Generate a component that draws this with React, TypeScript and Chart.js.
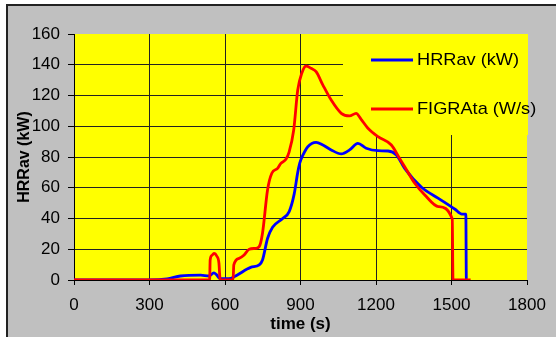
import React, { useEffect, useRef } from "react";
import { Chart, registerables } from "chart.js";

Chart.register(...registerables);

// ---- data ----
const xTicks = [0, 300, 600, 900, 1200, 1500, 1800];
const yTicks = [0, 20, 40, 60, 80, 100, 120, 140, 160];

const hrrLabel = "HRRav (kW)";
const figraLabel = "FIGRAta (W/s)";
const xTitle = "time (s)";
const yTitle = "HRRav (kW)";

const hrrTime = [0, 300, 370, 423, 503, 536, 556, 566, 580, 623, 649, 702, 736, 749, 769, 789, 829, 855, 875, 889, 897, 909, 929, 962, 989, 1022, 1062, 1095, 1128, 1161, 1208, 1248, 1281, 1314, 1381, 1448, 1514, 1541, 1557, 1559, 1562];
const hrrValue = [0, 0, 0.7, 2.6, 3.2, 2.6, 4.6, 3.5, 0.9, 1.1, 3.3, 8.2, 9.8, 13, 27, 34.3, 40, 44.5, 56, 70, 76, 81, 86.7, 89.5, 87.8, 84.6, 82, 84.6, 88.9, 85.7, 84.1, 83.9, 81.3, 72.6, 60.3, 53.1, 46, 42.9, 42.9, 0, 0];

const figraTime = [0, 539, 541, 548, 556, 567, 576, 579, 581, 632, 635, 656, 676, 696, 722, 736, 749, 769, 786, 809, 822, 842, 855, 873, 889, 905, 922, 942, 962, 989, 1022, 1062, 1095, 1121, 1141, 1168, 1208, 1261, 1294, 1314, 1354, 1394, 1448, 1503, 1506, 1576];
const figraValue = [0, 0, 13, 16, 17.3, 15.6, 10.8, 3, 0, 0, 9.8, 14.1, 16.3, 20, 20.6, 21.7, 30.4, 58.5, 69.4, 72.6, 75.9, 78.5, 83.4, 97.6, 123.6, 134.4, 139.2, 137.7, 135.5, 126.8, 117, 108.4, 106.7, 108.4, 104.5, 98.7, 93.2, 87.8, 79, 73.7, 62.9, 55.3, 47.7, 39.7, 0, 0];

const FONT = "'Liberation Sans', Arial, sans-serif";

const framePlugin = {
  id: "frame",
  beforeDraw(chart: any) {
    const { ctx, width, height, chartArea } = chart;
    ctx.save();
    ctx.fillStyle = "#ffffff";
    ctx.fillRect(0, 0, width, height);
    ctx.fillStyle = "#c0c0c0";
    ctx.fillRect(7, 5, width - 7, height - 5);
    ctx.strokeStyle = "#222222";
    ctx.lineWidth = 2;
    ctx.beginPath();
    ctx.moveTo(7, height);
    ctx.lineTo(7, 5);
    ctx.lineTo(width, 5);
    ctx.stroke();
    ctx.fillStyle = "#ffff00";
    ctx.fillRect(chartArea.left, chartArea.top, chartArea.right - chartArea.left, chartArea.bottom - chartArea.top);
    ctx.restore();
  },
};

const legendPlugin = {
  id: "boxLegend",
  beforeDatasetsDraw(chart: any) {
    const { ctx, chartArea } = chart;
    ctx.save();
    ctx.fillStyle = "#ffff00";
    ctx.fillRect(343, chartArea.top, chartArea.right - 343 + 1, 135 - chartArea.top);
    ctx.restore();
  },
  afterDatasetsDraw(chart: any) {
    const { ctx } = chart;
    const items = [
      { text: hrrLabel, color: "#0000ff", y: 60 },
      { text: figraLabel, color: "#ff0000", y: 109 },
    ];
    ctx.save();
    ctx.font = `17px ${FONT}`;
    ctx.textBaseline = "middle";
    ctx.textAlign = "left";
    for (const it of items) {
      ctx.strokeStyle = it.color;
      ctx.lineWidth = 2.8;
      ctx.beginPath();
      ctx.moveTo(371, it.y);
      ctx.lineTo(413, it.y);
      ctx.stroke();
      ctx.fillStyle = "#000000";
      ctx.save();
      ctx.translate(417, it.y + 0.5);
      ctx.scale(1.07, 1);
      ctx.fillText(it.text, 0, 0);
      ctx.restore();
    }
    ctx.restore();
  },
};

export default function App() {
  const ref = useRef<HTMLCanvasElement | null>(null);
  useEffect(() => {
    document.body.style.margin = "0";
    const canvas = ref.current;
    if (!canvas) return;
    const chart = new Chart(canvas, {
      type: "line",
      data: {
        datasets: [
          {
            label: figraLabel,
            data: figraTime.map((t, i) => ({ x: t, y: figraValue[i] })),
            borderColor: "#ff0000",
            borderWidth: 2.8,
            pointRadius: 0,
            cubicInterpolationMode: "monotone",
            fill: false,
          },
          {
            label: hrrLabel,
            data: hrrTime.map((t, i) => ({ x: t, y: hrrValue[i] })),
            borderColor: "#0000ff",
            borderWidth: 2.8,
            pointRadius: 0,
            cubicInterpolationMode: "monotone",
            fill: false,
          },
        ],
      },
      options: {
        responsive: false,
        animation: false,
        events: [],
        layout: { padding: { top: 34, right: 29, left: 0, bottom: 0 } },
        plugins: { legend: { display: false }, tooltip: { enabled: false }, title: { display: false } },
        scales: {
          x: {
            type: "linear",
            min: xTicks[0],
            max: xTicks[xTicks.length - 1],
            afterBuildTicks: (scale: any) => {
              scale.ticks = xTicks.map((v) => ({ value: v }));
            },
            afterFit: (scale: any) => {
              scale.height = 57;
            },
            ticks: {
              color: "#000",
              font: { family: FONT, size: 17 },
              padding: 10,
              maxRotation: 0,
              autoSkip: false,
              callback: (v: any) => String(v),
            },
            grid: {
              color: (c: any) => (c.tick && c.tick.value === 1800 ? "rgba(0,0,0,0)" : "#222"),
              lineWidth: 1,
              tickColor: "#000",
              tickLength: 5,
              drawTicks: true,
            },
            border: { color: "#000", width: 1 },
            title: { display: true, text: xTitle, color: "#000", font: { family: FONT, size: 17, weight: "bold" }, padding: { top: 0, bottom: 2 } },
          },
          y: {
            type: "linear",
            min: yTicks[0],
            max: yTicks[yTicks.length - 1],
            afterBuildTicks: (scale: any) => {
              scale.ticks = yTicks.map((v) => ({ value: v }));
            },
            afterFit: (scale: any) => {
              scale.width = 74;
            },
            ticks: { color: "#000", font: { family: FONT, size: 17 }, padding: 8, callback: (v: any) => String(v) },
            grid: {
              color: (c: any) => (c.tick && c.tick.value === 160 ? "rgba(0,0,0,0)" : "#222"),
              lineWidth: 1,
              tickColor: "#000",
              tickLength: 6,
              drawTicks: true,
            },
            border: { color: "#000", width: 1 },
            title: { display: true, text: yTitle, color: "#000", font: { family: FONT, size: 16, weight: "bold" }, padding: { top: 15, bottom: 0 } },
          },
        },
      },
      plugins: [framePlugin, legendPlugin],
    } as any);
    return () => chart.destroy();
  }, []);
  return <canvas ref={ref} width={556} height={337} style={{ display: "block" }} />;
}
